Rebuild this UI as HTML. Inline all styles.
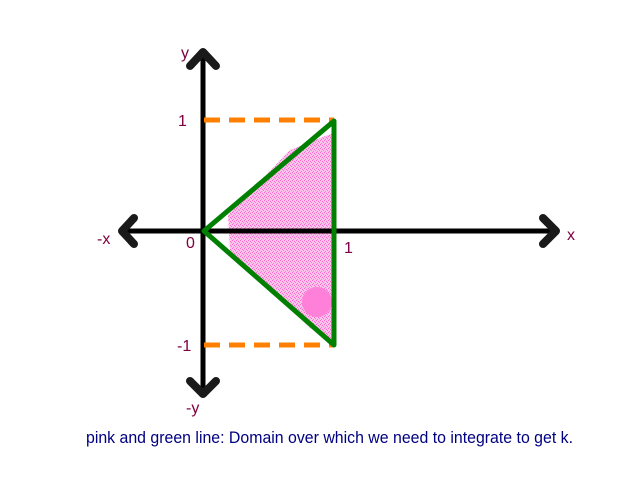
<!DOCTYPE html>
<html><head><style>body{margin:0;background:#fff}svg{display:block}</style></head><body>
<svg width="640" height="480" xmlns="http://www.w3.org/2000/svg" font-family="Liberation Sans, sans-serif">
<defs><pattern id="sp" width="4" height="4" patternUnits="userSpaceOnUse"><rect width="4" height="4" fill="#fbc3ec"/><rect x="0" y="0" width="1" height="1" fill="#ff66cc"/><rect x="2" y="1" width="1" height="1" fill="#ff66cc"/><rect x="1" y="3" width="1" height="1" fill="#ff77dd"/><rect x="3" y="2" width="1" height="1" fill="#ff77dd"/></pattern></defs>
<polygon points="228,215 290,150 333,133 333,340 310,328 230,250" fill="url(#sp)"/>
<circle cx="317" cy="302" r="15" fill="#ff80d8"/>
<g stroke="#000" stroke-width="5" fill="none" stroke-linecap="round">
<line x1="203" y1="52" x2="203" y2="394"/>
<line x1="122" y1="231" x2="556" y2="231"/>
</g>
<g stroke="#1a1a1a" stroke-width="8" fill="none" stroke-linecap="round" stroke-linejoin="round">
<polyline points="190,66 203,52 216,66"/>
<polyline points="190,381 203,394 216,381"/>
<polyline points="134,218 122,231 134,244"/>
<polyline points="543,218 556,231 543,244"/>
</g>
<g stroke="#ff8000" stroke-width="5" stroke-dasharray="16,9">
<line x1="204" y1="120" x2="334" y2="120"/>
<line x1="204" y1="345" x2="334" y2="345"/>
</g>
<polygon points="204,231 334,121 334,345" fill="none" stroke="#008000" stroke-width="5" stroke-linejoin="round"/>
<g fill="#800040" font-size="16">
<text x="181" y="58">y</text>
<text x="178" y="126">1</text>
<text x="97" y="244">-x</text>
<text x="186" y="248">0</text>
<text x="344" y="253">1</text>
<text x="567" y="240">x</text>
<text x="177" y="351">-1</text>
<text x="186" y="413">-y</text>
</g>
<text x="86" y="443" fill="#000080" font-size="16.5" textLength="487" lengthAdjust="spacingAndGlyphs">pink and green line: Domain over which we need to integrate to get k.</text>
</svg>
</body></html>
